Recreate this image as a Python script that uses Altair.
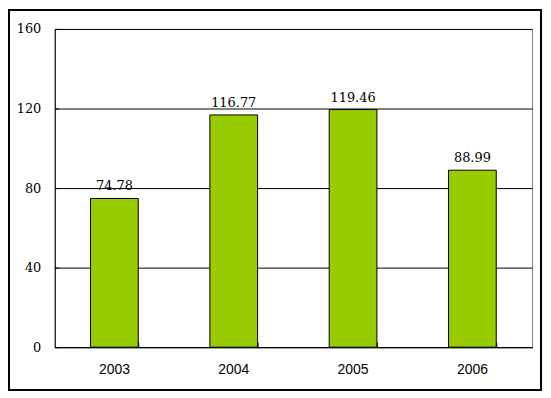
import altair as alt
import pandas as pd

years = ["2003", "2004", "2005", "2006"]
values = [74.78, 116.77, 119.46, 88.99]
y_ticks = [0, 40, 80, 120, 160]

df = pd.DataFrame({"year": years, "value": values})

base = alt.Chart(df)

x_scale = alt.Scale(paddingInner=0.6, paddingOuter=0.3)
y_scale = alt.Scale(domain=[0, 160])

bars = base.mark_bar(color="#99CC00", stroke="black", strokeWidth=1).encode(
    x=alt.X("year:N", scale=x_scale, sort=years,
            axis=alt.Axis(title=None, orient="bottom", labelAngle=0, ticks=False,
                          domain=True, domainColor="black", domainWidth=1,
                          labelPadding=15, labelFont="Liberation Sans",
                          labelFontSize=14, labelColor="black", grid=False)),
    y=alt.Y("value:Q", scale=y_scale,
            axis=alt.Axis(title=None, orient="left", values=y_ticks, ticks=False,
                          domain=True, domainColor="black", domainWidth=1,
                          grid=True, gridColor="black", gridWidth=1,
                          gridOpacity=1, labelPadding=14,
                          labelFont="DejaVu Serif", labelFontSize=13,
                          labelColor="black")),
)

labels = base.mark_text(dy=-8, baseline="alphabetic", font="DejaVu Serif",
                        fontSize=13, color="black").encode(
    x=alt.X("year:N", sort=years, axis=None),
    y=alt.Y("value:Q", axis=None),
    text=alt.Text("value:Q", format=".2f"),
)

tick_layer = base.mark_point(opacity=0).encode(
    x=alt.X("year:N", sort=years,
            axis=alt.Axis(title=None, orient="bottom", domain=False,
                          labels=False, ticks=True, tickSize=5,
                          tickColor="black", tickWidth=1, offset=-5,
                          tickBand="extent", grid=False)),
    y=alt.Y("value:Q",
            axis=alt.Axis(title=None, orient="left", domain=False,
                          labels=False, ticks=True, tickSize=4,
                          tickColor="black", tickWidth=1, offset=-4,
                          values=y_ticks, grid=False)),
)

border = base.mark_rect(fill=None, stroke="black", strokeWidth=1.5).encode(
    x=alt.value(-46), x2=alt.value(489),
    y=alt.value(-19), y2=alt.value(363),
)

chart = alt.layer(bars, labels, tick_layer, border).resolve_axis(
    x="independent", y="independent"
).properties(
    width=480, height=320,
    autosize=alt.AutoSizeParams(type="none"),
    padding={"left": 47, "top": 20, "right": 11, "bottom": 45},
    background="white",
).configure_view(stroke="#808080", strokeWidth=1)

chart.save("out.html", embed_options={"renderer": "svg", "actions": False})
